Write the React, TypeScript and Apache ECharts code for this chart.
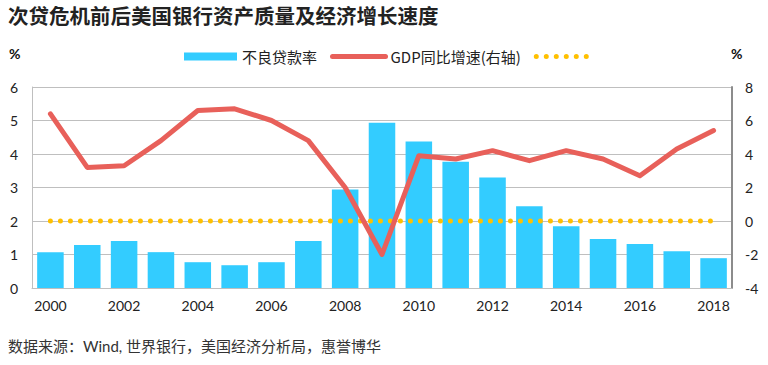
import React, { useEffect, useRef } from "react";
import * as echarts from "echarts";

const years = ["2000","2001","2002","2003","2004","2005","2006","2007","2008","2009","2010","2011","2012","2013","2014","2015","2016","2017","2018"];
const nplRatio = [1.07,1.28,1.40,1.07,0.77,0.68,0.77,1.40,2.94,4.93,4.37,3.77,3.30,2.44,1.84,1.46,1.31,1.10,0.89];
const gdpGrowth = [6.4,3.2,3.3,4.8,6.6,6.7,6.0,4.8,2.0,-2.0,3.9,3.7,4.2,3.6,4.2,3.7,2.7,4.3,5.4];
const zeroLine = years.map(() => 0);
const leftTicks = { min: 0, max: 6, interval: 1 };
const rightTicks = { min: -4, max: 8, interval: 2 };

const FONT = 'Lato, "Noto Sans CJK SC", sans-serif';
const CJK = '"Noto Sans CJK SC", Lato, sans-serif';

export default function App() {
  const ref = useRef<HTMLDivElement>(null);
  useEffect(() => {
    if (!ref.current) return;
    const chart = echarts.init(ref.current, null, { renderer: "svg" });
    const dotStyle = { color: "#FFC000", width: 5, type: [0, 10], cap: "round" };
    chart.setOption({
      animation: false,
      textStyle: { fontFamily: FONT },
      graphic: [
        { type: "text", left: 8, top: 5, style: { text: "次贷危机前后美国银行资产质量及经济增长速度", font: `bold 20.5px ${CJK}`, fill: "#222" } },
        { type: "text", left: 9, top: 46, style: { text: "%", font: `bold 14px ${FONT}`, fill: "#111" } },
        { type: "text", left: 731, top: 46, style: { text: "%", font: `bold 14px ${FONT}`, fill: "#111" } },
        { type: "text", left: 8, top: 338, style: { text: "数据来源：Wind, 世界银行，美国经济分析局，惠誉博华", font: `15px ${FONT}`, fill: "#333" } },
      ],
      legend: {
        left: 179,
        top: 44,
        itemWidth: 53,
        itemHeight: 8,
        itemGap: 13,
        textStyle: { fontSize: 15, color: "#222", fontFamily: CJK },
        data: [
          { name: "不良贷款率", icon: "rect" },
          { name: "GDP同比增速(右轴)", lineStyle: { width: 5, cap: "round" }, itemStyle: { opacity: 0 } },
          { name: " ", lineStyle: dotStyle, itemStyle: { opacity: 0 } },
        ],
      },
      grid: { left: 32, right: 36, top: 87, bottom: 77 },
      xAxis: {
        type: "category",
        data: years,
        boundaryGap: true,
        axisLine: { lineStyle: { color: "#BFBFBF", width: 1 } },
        axisTick: { show: false },
        axisLabel: { interval: 1, color: "#222", fontSize: 14, margin: 10, fontFamily: FONT },
      },
      yAxis: [
        {
          type: "value",
          ...leftTicks,
          axisLine: { show: true, lineStyle: { color: "#BFBFBF", width: 1 } },
          axisTick: { show: false },
          splitLine: { lineStyle: { color: "#BFBFBF", width: 1 } },
          axisLabel: { color: "#222", fontSize: 14, margin: 14, fontFamily: FONT },
        },
        {
          type: "value",
          ...rightTicks,
          position: "right",
          axisLine: { show: true, lineStyle: { color: "#8C8C8C", width: 2 } },
          axisTick: { show: false },
          splitLine: { show: false },
          axisLabel: { color: "#222", fontSize: 14, margin: 13, fontFamily: FONT },
        },
      ],
      series: [
        {
          name: "不良贷款率",
          type: "bar",
          data: nplRatio,
          barWidth: "72%",
          itemStyle: { color: "#33CCFF" },
          yAxisIndex: 0,
        },
        {
          name: " ",
          type: "line",
          data: zeroLine,
          yAxisIndex: 1,
          symbol: "none",
          lineStyle: dotStyle,
          itemStyle: { color: "#FFC000" },
        },
        {
          name: "GDP同比增速(右轴)",
          type: "line",
          data: gdpGrowth,
          yAxisIndex: 1,
          symbol: "none",
          lineStyle: { color: "#E8605A", width: 5, cap: "round", join: "round" },
          itemStyle: { color: "#E8605A" },
        },
      ],
    });
    return () => chart.dispose();
  }, []);
  return <div ref={ref} style={{ width: 768, height: 365, position: "absolute", left: 0, top: 0 }} />;
}
